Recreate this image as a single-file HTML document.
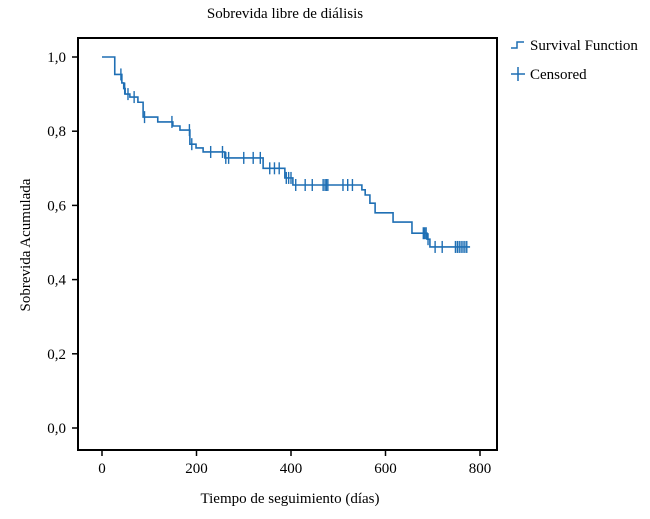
<!DOCTYPE html>
<html><head><meta charset="utf-8"><style>
body{margin:0;background:#fff;width:650px;height:514px;overflow:hidden}
text{font-family:"Liberation Serif",serif;fill:#000}
</style></head><body>
<svg id="chart" width="650" height="514">
<text x="285" y="18" font-size="15" text-anchor="middle">Sobrevida libre de diálisis</text>
<rect x="78" y="38" width="419" height="412" fill="none" stroke="#000" stroke-width="2"/>
<g id="axes"></g>
<g id="series"></g>
<text x="290" y="503" font-size="15" text-anchor="middle">Tiempo de seguimiento (días)</text>
<text transform="translate(30,245) rotate(-90)" font-size="15" text-anchor="middle">Sobrevida Acumulada</text>
<g>
<path d="M511,48 h6 v-6 h7" fill="none" stroke="#1f6fb4" stroke-width="1.5"/>
<text x="530" y="50" font-size="15">Survival Function</text>
<path d="M511,74 h14 M518,67 v14" stroke="#1f6fb4" stroke-width="1.5"/>
<text x="530" y="79" font-size="15">Censored</text>
</g>
</svg>
<script>
const stepTimes=[0,27,42,46,49,59,76,87,118,150,165,186,199,214,260,341,387,404,550,557,567,578,616,656,688,694,779];
const stepSurv=[1.0,0.953,0.93,0.915,0.90,0.892,0.878,0.838,0.825,0.814,0.803,0.765,0.755,0.744,0.728,0.70,0.674,0.655,0.642,0.628,0.606,0.58,0.555,0.525,0.509,0.488,0.488];
const censorTimes=[40,48,55,68,90,148,185,190,230,255,262,268,300,320,335,355,365,375,390,395,400,410,430,445,468,472,475,478,510,520,530,680,683,686,690,705,720,748,752,756,760,764,768,772];
const xTicks=[0,200,400,600,800];
const yTicks=[0,0.2,0.4,0.6,0.8,1.0];
const yTickLabels=["0,0","0,2","0,4","0,6","0,8","1,0"];
const xs=t=>102+t*0.4725, ys=s=>428-s*371;
const NS="http://www.w3.org/2000/svg";
const ax=document.getElementById('axes'), se=document.getElementById('series');
function mk(tag,attrs,parent){const e=document.createElementNS(NS,tag);for(const k in attrs)e.setAttribute(k,attrs[k]);parent.appendChild(e);return e;}
xTicks.forEach((v,i)=>{
 const l=mk('line',{x1:xs(v),x2:xs(v),y1:450,y2:456,stroke:'#000','stroke-width':1.5},ax);
 
 
 const t=mk('text',{x:xs(v),y:473,'font-size':15,'text-anchor':'middle'},ax);t.textContent=v;
 
 
});
yTicks.forEach((v,i)=>{
 const l=mk('line',{x1:72,x2:78,y1:ys(v),y2:ys(v),stroke:'#000','stroke-width':1.5},ax);
 
 
 const t=mk('text',{x:66,y:ys(v)+5,'font-size':15,'text-anchor':'end'},ax);t.textContent=yTickLabels[i];
 
 
});
let d='M'+xs(stepTimes[0])+','+ys(stepSurv[0]);
for(let i=1;i<stepTimes.length;i++){d+=' H'+xs(stepTimes[i])+' V'+ys(stepSurv[i]);}
const p=mk('path',{d:d,fill:'none',stroke:'#1f6fb4','stroke-width':1.6},se);


function survAt(t){let s=stepSurv[0];for(let i=0;i<stepTimes.length;i++){if(stepTimes[i]<=t)s=stepSurv[i];}return s;}
censorTimes.forEach(t=>{
 const x=xs(t),y=ys(survAt(t));
 const c=mk('line',{x1:x,x2:x,y1:y-6,y2:y+6,stroke:'#1f6fb4','stroke-width':1.4},se);
 
 
});
</script>
</body></html>
